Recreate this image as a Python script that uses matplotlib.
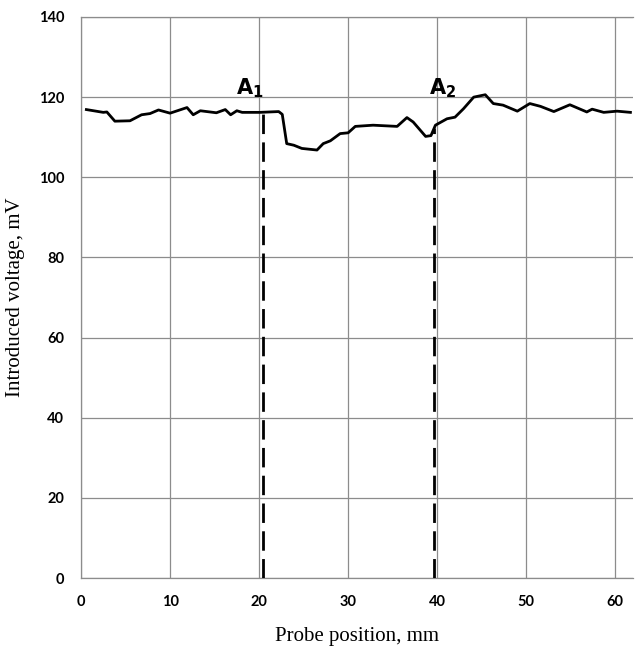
import numpy as np
import matplotlib
matplotlib.use("Agg")
import matplotlib.pyplot as plt

# probe position (mm) and introduced voltage (mV)
position = [0.6, 2.5, 2.9, 3.8, 5.5, 6.8, 7.75, 8.7, 10.0, 11.9, 12.6, 13.4, 15.2, 16.2,
            16.8, 17.5, 18.1, 20.1, 22.2, 22.6, 23.1, 23.9, 24.8, 26.5, 27.2, 28.0, 29.1,
            30.0, 30.8, 32.8, 35.5, 36.6, 37.3, 38.7, 39.3, 39.8, 41.1, 42.0, 42.95, 44.1,
            45.4, 46.3, 47.4, 49.0, 50.4, 51.6, 53.1, 54.9, 56.8, 57.4, 58.7, 60.2, 61.7]
voltage = [116.9, 116.2, 116.3, 114.0, 114.1, 115.6, 115.9, 116.8, 116.0, 117.4, 115.6,
           116.6, 116.1, 116.9, 115.6, 116.6, 116.2, 116.2, 116.4, 115.7, 108.4, 108.0,
           107.2, 106.8, 108.4, 109.1, 110.9, 111.1, 112.7, 113.0, 112.7, 114.9, 113.8,
           110.2, 110.4, 113.0, 114.6, 115.0, 117.1, 120.0, 120.6, 118.4, 118.0, 116.5,
           118.4, 117.7, 116.4, 118.1, 116.3, 117.0, 116.2, 116.5, 116.2]

# marker positions A1, A2
marker_x = [20.45, 39.66]
marker_names = ["1", "2"]

x_ticks = [0, 10, 20, 30, 40, 50, 60]
y_ticks = [0, 20, 40, 60, 80, 100, 120, 140]

fig = plt.figure(figsize=(6.35, 6.51), dpi=100)
ax = fig.add_axes([0.1276, 0.1121, 0.8694, 0.8618])

ax.plot(position, voltage, color="black", lw=2.0, zorder=3)

grid_col = "#8c8c8c"
label_shift = [-1.45, 1.0]  # horizontal offset of the A labels from their dashed lines
for xm, nm, dx in zip(marker_x, marker_names, label_shift):
    top = np.interp(xm, position, voltage)
    ax.plot([xm, xm], [0, top], color="black", lw=2.0, dashes=(7, 3), zorder=4)
    ax.text(xm + dx, 120.6, r"$\mathbf{A}_\mathbf{" + nm + "}$", ha="center", va="baseline",
            fontsize=15, zorder=5)

ax.set_xlim(0, 62)
ax.set_ylim(0, 140)
ax.set_xticks(x_ticks)
ax.set_yticks(y_ticks)
ax.grid(True, color=grid_col, lw=0.9)
ax.set_axisbelow(True)
for s in ax.spines.values():
    s.set_color(grid_col)
    s.set_linewidth(0.9)
ax.spines["right"].set_visible(False)

ax.tick_params(length=0, pad=12)
for lab in ax.get_xticklabels() + ax.get_yticklabels():
    lab.set_fontfamily("Lato")
    lab.set_fontweight("bold")
    lab.set_fontsize(10.5)

ax.set_xlabel("Probe position, mm", family="Liberation Serif", fontsize=15, labelpad=13)
ax.set_ylabel("Introduced voltage, mV", family="Liberation Serif", fontsize=15, labelpad=10)

fig.savefig("out.png", dpi=100)
